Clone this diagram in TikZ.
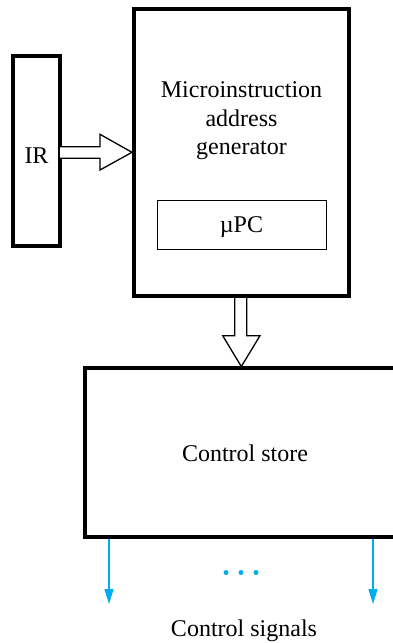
\documentclass[tikz,border=0pt]{standalone}
\usepackage{fontspec}
\setmainfont{Liberation Serif}
\usetikzlibrary{arrows.meta}
\definecolor{sigblue}{RGB}{0,174,239}
\tikzset{
  thickbox/.style={draw=black, line width=4pt},
  thinbox/.style={draw=black, line width=1pt},
  label/.style={font=\fontsize{24}{28.5}\selectfont, align=center, inner sep=0pt},
  hollow/.style={draw=black, fill=white, line width=1.3pt, line join=miter},
  sig/.style={draw=sigblue, line width=1.5pt, -{Triangle[length=15pt,width=9pt]}},
  dotty/.style={circle, fill=sigblue, inner sep=0pt, minimum size=5pt}
}
\begin{document}
\begin{tikzpicture}[x=1pt,y=-1pt]
\useasboundingbox (0,0) rectangle (392,643);
% IR
\draw[thickbox] (13,56) rectangle (59.5,246);
\node[label] (ir) at (36.5,156) {IR};
% Generator
\draw[thickbox] (134,9) rectangle (349,296);
\node[label] (gen) at (241.5,121) {Microinstruction\\address\\generator};
\draw[thinbox] (157,200) rectangle (326,249);
\node[label] (upc) at (241.5,227) {µPC};
% IR -> generator hollow arrow
\draw[hollow] (60,146.7) -- (100,146.7) -- (100,134.3) -- (132,152.3) -- (100,170) -- (100,158.3) -- (60,158.3);
% Control store
\draw[thickbox] (400,368) -- (85,368) -- (85,536.5) -- (400,536.5);
\node[label] (cs) at (245,453) {Control store};
% generator -> control store hollow arrow
\draw[hollow] (234.7,298) -- (234.7,335.7) -- (222.7,335.7) -- (241.3,366.5) -- (260,335.7) -- (246.7,335.7) -- (246.7,298);
% Control signals
\coordinate (s1a) at (109,538.5);
\coordinate (s1b) at (109,604);
\coordinate (s2a) at (373,538.5);
\coordinate (s2b) at (373,604);
\draw[sig] (s1a) -- (s1b);
\draw[sig] (s2a) -- (s2b);
\node[dotty] (d1) at (226,572.5) {};
\node[dotty] (d2) at (241,572.5) {};
\node[dotty] (d3) at (256,572.5) {};
\node[label] (sigs) at (244,631) {Control signals};
\end{tikzpicture}
\end{document}
